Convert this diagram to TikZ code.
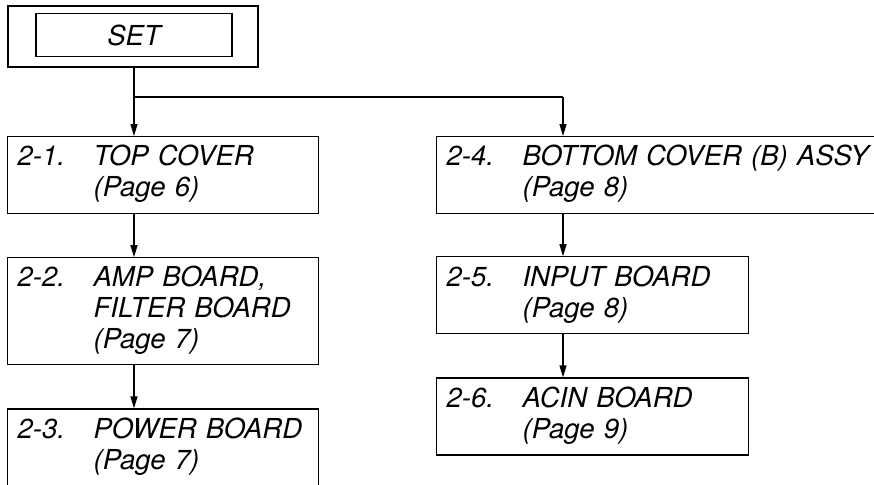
\documentclass[tikz,border=0pt]{standalone}
\usepackage{fontspec}
\setmainfont{TeX Gyre Heros}
\usetikzlibrary{positioning,arrows.meta}

\tikzset{
  stepbox/.style={draw, line width=1.2pt, anchor=north west, inner xsep=10pt,
    inner ysep=0pt, minimum height=77pt, align=left,
    font=\fontsize{27.5}{31}\selectfont\itshape},
  setbox/.style={draw, line width=1.2pt, inner sep=0pt,
    font=\fontsize{27.5}{31}\selectfont\itshape},
  line/.style={line width=1.2pt},
  link/.style={line width=1.2pt, -{Triangle[length=12pt,width=7pt]}},
}
\newcommand{\steptext}[2]{\begin{tabular}{@{}p{76pt}@{}l@{}}#1 & #2\end{tabular}}

\begin{document}
\begin{tikzpicture}[x=1pt, y=-1pt]
\useasboundingbox (0,0) rectangle (874,484);

\def\xl{7}
\def\xr{436}
\def\yt{136}

% set
\node[setbox, minimum width=250pt, minimum height=61pt] (setframe) at (133,36.5) {};
\node[setbox, minimum width=196pt, minimum height=43pt] (set) at (134,35) {SET};

% left column
\node[stepbox, text width=291pt] (top) at (\xl, \yt)
  {\steptext{2-1.}{TOP COVER\\ & (Page 6)}};
\node[stepbox, text width=291pt, minimum height=107pt,
  below=43pt of top.south west, anchor=north west] (amp)
  {\steptext{2-2.}{AMP BOARD,\\ & FILTER BOARD\\ & (Page 7)}};
\node[stepbox, text width=291pt,
  below=43pt of amp.south west, anchor=north west] (power)
  {\steptext{2-3.}{POWER BOARD\\ & (Page 7)}};

% right column
\node[stepbox, text width=440pt] (bottom) at (\xr, \yt)
  {\steptext{2-4.}{BOTTOM COVER (B) ASSY\\ & (Page 8)}};
\node[stepbox, text width=292pt,
  below=42pt of bottom.south west, anchor=north west] (input)
  {\steptext{2-5.}{INPUT BOARD\\ & (Page 8)}};
\node[stepbox, text width=292pt,
  below=43pt of input.south west, anchor=north west] (acin)
  {\steptext{2-6.}{ACIN BOARD\\ & (Page 9)}};

\coordinate (fork) at (134,97);
\coordinate (rfork) at (563,97);

\draw[line] (fork |- setframe.south) -- (fork);
\draw[link] (fork) -- (fork |- top.north);
\draw[line] (fork) -- (rfork);
\draw[link] (rfork) -- (rfork |- bottom.north);
\draw[link] (fork |- top.south) -- (fork |- amp.north);
\draw[link] (fork |- amp.south) -- (fork |- power.north);
\draw[link] (rfork |- bottom.south) -- (rfork |- input.north);
\draw[link] (rfork |- input.south) -- (rfork |- acin.north);

\end{tikzpicture}
\end{document}
